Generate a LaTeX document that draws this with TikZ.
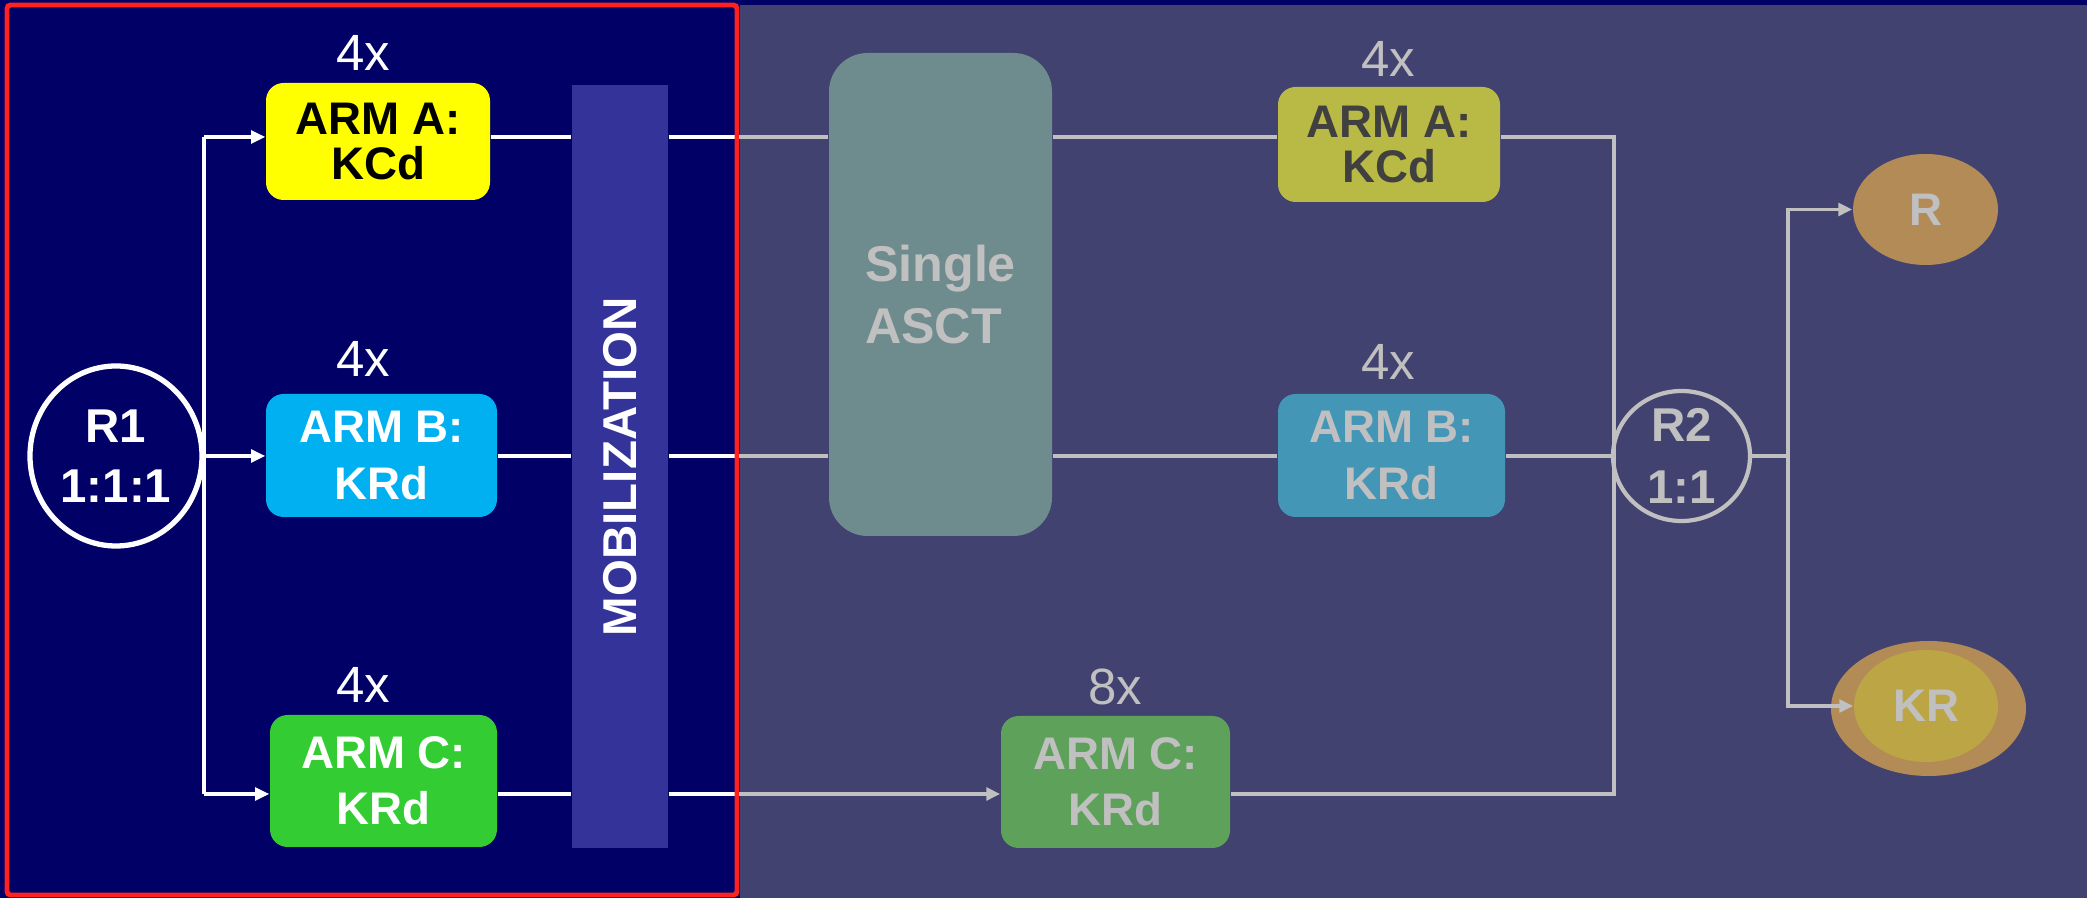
\documentclass[tikz,border=0pt]{standalone}
\usepackage{fontspec}
\setmainfont{Liberation Sans}
\usetikzlibrary{arrows.meta, shapes.geometric, positioning, calc}
\definecolor{navy}{HTML}{000066}
\definecolor{dimbg}{HTML}{424270}
\definecolor{mobblue}{HTML}{333399}
\definecolor{dimgray}{HTML}{C0C0C0}
\definecolor{armyellow}{HTML}{FFFF00}
\definecolor{armcyan}{HTML}{00B0F0}
\definecolor{armgreen}{HTML}{33CC33}
\definecolor{dimyellow}{HTML}{B9B945}
\definecolor{dimcyan}{HTML}{4496B6}
\definecolor{dimgreen}{HTML}{5EA15B}
\definecolor{asctgray}{HTML}{6E8B8E}
\definecolor{respbrown}{HTML}{B38B57}
\definecolor{respgold}{HTML}{BBA545}
\definecolor{framered}{HTML}{FF2020}
\newcommand{\armfont}[1]{\bfseries\fontsize{13}{#1}\selectfont}

\begin{document}
\begin{tikzpicture}[
  armbox/.style={rounded corners=5pt, inner sep=0pt, align=center},
  times/.style={font=\fontsize{14.5}{15}\selectfont},
  wline/.style={white, line width=0.9pt},
  gline/.style={dimgray, line width=1.1pt},
  arrowed/.style={-{Triangle[length=4pt,width=3.6pt]}}
]
\useasboundingbox (0,0) rectangle (20.87,8.98);
\fill[navy] (0,0) rectangle (20.87,8.98);
\fill[dimbg] (7.40,0) rectangle (20.87,8.93);

\coordinate (lvA) at (0,7.61);
\coordinate (lvB) at (0,4.42);
\coordinate (lvC) at (0,1.04);
\coordinate (bus1) at (2.04,0);
\coordinate (split) at (7.40,0);
\coordinate (bus2) at (16.14,0);
\coordinate (fork2) at (17.88,0);

% induction
\node[ellipse, draw=white, line width=1.5pt, inner sep=0pt, minimum width=1.72cm, minimum height=1.80cm,
  text=white, align=center, font=\bfseries\fontsize{13.5}{17}\selectfont] (r1) at (1.16,4.42) {R1\\1:1:1};
\node[armbox, fill=armyellow, minimum width=2.24cm, minimum height=1.17cm, font=\armfont{13}] (armA) at (3.78,7.565) {ARM A:\\KCd};
\node[armbox, fill=armcyan, text=white, minimum width=2.31cm, minimum height=1.23cm, font=\armfont{16}] (armB) at (3.815,4.425) {ARM B:\\KRd};
\node[armbox, fill=armgreen, text=white, minimum width=2.27cm, minimum height=1.32cm, font=\armfont{16}] (armC) at (3.835,1.17) {ARM C:\\KRd};
\node[times, white] (nA) at (3.63,8.45) {4x};
\node[times, white] (nB) at (3.63,5.39) {4x};
\node[times, white] (nC) at (3.63,2.13) {4x};
\node[fill=mobblue, inner sep=0pt, minimum width=0.96cm, minimum height=7.63cm] (mob) at (6.20,4.315) {};
\node[rotate=90, white, font=\bfseries\fontsize{13.5}{14}\selectfont] (mobtxt) at (mob) {MOBILIZATION};

% transplant and consolidation
\node[fill=asctgray, rounded corners=11pt, inner sep=0pt, minimum width=2.23cm, minimum height=4.83cm,
  text=dimgray, align=left, font=\bfseries\fontsize{14.3}{17.6}\selectfont] (asct) at (9.405,6.035) {Single\\ASCT};
\node[armbox, fill=dimyellow, text=black!75, minimum width=2.22cm, minimum height=1.15cm, font=\armfont{13}] (rarmA) at (13.89,7.535) {ARM A:\\KCd};
\node[armbox, fill=dimcyan, text=dimgray, minimum width=2.27cm, minimum height=1.23cm, font=\armfont{16}] (rarmB) at (13.915,4.425) {ARM B:\\KRd};
\node[armbox, fill=dimgreen, text=dimgray, minimum width=2.29cm, minimum height=1.32cm, font=\armfont{16}] (rarmC) at (11.155,1.16) {ARM C:\\KRd};
\node[times, dimgray] (rnA) at (13.88,8.39) {4x};
\node[times, dimgray] (rnB) at (13.88,5.36) {4x};
\node[times, dimgray] (rnC) at (11.15,2.11) {8x};

% maintenance
\node[ellipse, draw=dimgray, line width=1.2pt, minimum width=1.37cm, minimum height=1.30cm] (r2) at (16.815,4.42) {};
\node[text=dimgray, align=center, font=\bfseries\fontsize{13.5}{17.6}\selectfont] (r2txt) at (r2) {R2\\1:1};
\node[ellipse, fill=respbrown, inner sep=0pt, minimum width=1.45cm, minimum height=1.11cm,
  text=dimgray, font=\bfseries\fontsize{13}{14}\selectfont] (r) at (19.255,6.885) {R};
\node[ellipse, fill=respbrown, minimum width=1.95cm, minimum height=1.35cm] (kro) at (19.285,1.895) {};
\node[ellipse, fill=respgold, inner sep=0pt, minimum width=1.44cm, minimum height=1.12cm,
  text=dimgray, font=\bfseries\fontsize{13}{14}\selectfont] (kr) at (19.26,1.92) {KR};

% connectors
\draw[wline] (bus1 |- lvA) -- (bus1 |- lvC);
\draw[wline] (r1.east) -- (bus1 |- lvB);
\foreach \a in {A,B,C}{
  \draw[wline, arrowed] (bus1 |- lv\a) -- (arm\a.west |- lv\a);
  \draw[wline] (arm\a.east |- lv\a) -- (mob.west |- lv\a);
  \draw[wline] (mob.east |- lv\a) -- (split |- lv\a);
}
\foreach \a in {A,B}{
  \draw[gline] (split |- lv\a) -- (asct.west |- lv\a);
  \draw[gline] (asct.east |- lv\a) -- (rarm\a.west |- lv\a);
}
\draw[gline, arrowed] (split |- lvC) -- (rarmC.west |- lvC);
\draw[gline] (rarmA.east |- lvA) -- (bus2 |- lvA) -- (bus2 |- lvC) -- (rarmC.east |- lvC);
\draw[gline] (rarmB.east |- lvB) -- (r2.west);
\draw[gline] (r2.east) -- (fork2 |- r2.east);
\draw[gline, arrowed] (fork2 |- r2.east) |- (r.west);
\draw[gline, arrowed] (fork2 |- r2.east) |- (kr.west);

\draw[framered, line width=1.4pt, rounded corners=1pt] (0.07,0.03) rectangle (7.37,8.93);
\end{tikzpicture}
\end{document}
